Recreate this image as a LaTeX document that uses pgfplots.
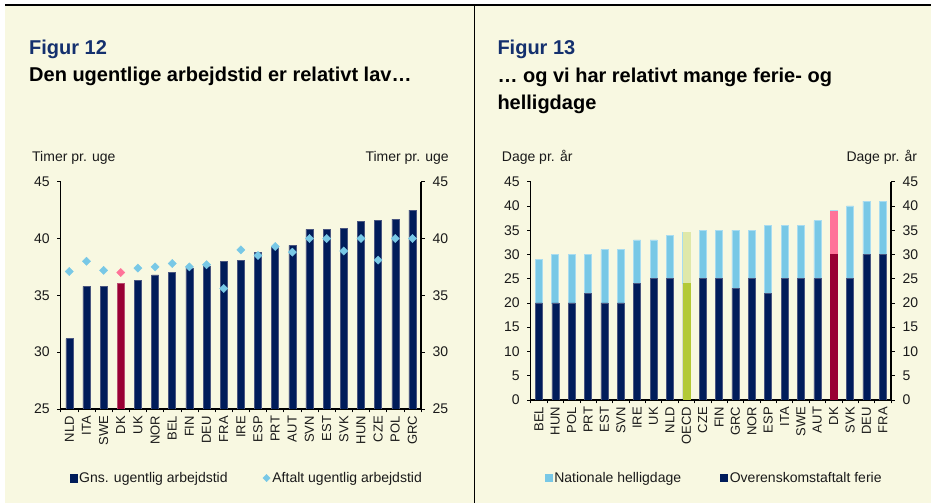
\documentclass[border=0pt]{standalone}
\usepackage{pgfplots}
\pgfplotsset{compat=1.18}
\usepackage{fontspec}
\setmainfont{Liberation Sans}
\definecolor{navy}{HTML}{001C5A}
\definecolor{navye}{HTML}{4A5680}
\definecolor{lblue}{HTML}{78C8E6}
\definecolor{lbluee}{HTML}{A9DCF0}
\definecolor{dkred}{HTML}{990033}
\definecolor{pink}{HTML}{FF7399}
\definecolor{ogreen}{HTML}{B3C935}
\definecolor{lgreen}{HTML}{DFE8A9}
\definecolor{cream}{HTML}{F8F8E1}
\definecolor{tblue}{HTML}{14306E}
\definecolor{txt}{HTML}{1A1A1A}
\newcommand{\lab}{\fontsize{14bp}{16bp}\selectfont}
\newcommand{\xlab}{\fontsize{13bp}{15bp}\selectfont}
\newcommand{\ttl}{\fontsize{20bp}{25bp}\selectfont\bfseries}
\pgfplotsset{
  base/.style={
    scale only axis, width=360.3bp, anchor=south west,
    tick align=outside, major tick length=3.5bp, minor tick length=3.5bp,
    tick style={black, line width=0.6bp},
    axis line style={black, line width=1.4bp},
    /pgf/number format/assume math mode=true,
    ticklabel style={font=\lab, text=txt},
  },
  xcat/.style={
    axis x line*=bottom, axis y line*=left,
    xtick={0,...,#1}, major x tick style={draw=none},
    minor xtick={-0.5,0.5,...,#1.5},
    xmin=-0.5, xmax=#1.5,
    x tick label style={rotate=90, anchor=east, font=\xlab},
    y tick label style={xshift=-4bp},
  },
  rightax/.style={
    axis x line=none, axis y line*=right, xmin=-0.5, xmax=#1.5,
    y tick label style={xshift=4.5bp},
  },
  leg/.style={
    legend style={draw=none, fill=none, anchor=west, legend columns=2,
      font=\lab, text=txt, inner sep=0pt,
      /tikz/every even column/.append style={column sep=#1}},
    legend cell align=left,
  },
}
\begin{document}
\begin{tikzpicture}[x=1bp,y=1bp]
\useasboundingbox (0,0) rectangle (931,503);
\fill[white] (0,0) rectangle (931,503);
\fill[cream] (5,0) rectangle (931,498);
\draw[black, line width=1.2bp] (5,498) -- (931,498);
\draw[black, line width=1.3bp] (474.3,0) -- (474.3,498);

% titles
\node[anchor=base west, inner sep=0, text=tblue, font=\ttl] at (29,448) {Figur 12};
\node[anchor=base west, inner sep=0, text=black, font=\ttl] at (29,421) {Den ugentlige arbejdstid er relativt lav…};
\node[anchor=base west, inner sep=0, text=txt, font=\lab] at (32,341) {Timer pr. uge};
\node[anchor=base east, inner sep=0, text=txt, font=\lab] at (449,341) {Timer pr. uge};

\node[anchor=base west, inner sep=0, text=tblue, font=\ttl] at (497.3,448) {Figur 13};
\node[anchor=base west, inner sep=0, text=black, font=\ttl] at (497.3,420) {… og vi har relativt mange ferie- og};
\node[anchor=base west, inner sep=0, text=black, font=\ttl] at (497.3,393) {helligdage};
\node[anchor=base west, inner sep=0, text=txt, font=\lab] at (501.7,341) {Dage pr. år};
\node[anchor=base east, inner sep=0, text=txt, font=\lab] at (917.3,341) {Dage pr. år};

% ---------- Figure 12 ----------
\begin{axis}[base, xcat=20, at={(60.7bp,94bp)}, height=227.3bp,
  ymin=25, ymax=45, ytick={25,30,...,45},
  xticklabels={NLD,ITA,SWE,DK,UK,NOR,BEL,FIN,DEU,FRA,IRE,ESP,PRT,AUT,SVN,EST,SVK,HUN,CZE,POL,GRC},
  leg=33bp, legend style={at={(0.024,-0.3036)}},
]
\addplot[ybar, bar width=7bp, bar shift=0pt, fill=navy, draw=navye, line width=0.5bp, forget plot]
 coordinates {(0,31.2) (1,35.8) (2,35.8) (4,36.3) (5,36.8) (6,37.0) (7,37.4) (8,37.6) (9,38.0) (10,38.1)
  (11,38.8) (12,39.2) (13,39.4) (14,40.8) (15,40.8) (16,40.9) (17,41.5) (18,41.6) (19,41.7) (20,42.5)};
\addplot[ybar, bar width=7bp, bar shift=0pt, fill=dkred, draw=dkred!70!white, line width=0.5bp, forget plot]
 coordinates {(3,36.1)};
\addplot[only marks, mark=square*, mark size=2.9bp, mark options={rotate=45, fill=lblue, draw=lblue}, forget plot]
 coordinates {(0,37.1) (1,38.0) (2,37.2) (4,37.4) (5,37.5) (6,37.8) (7,37.5) (8,37.7) (9,35.6) (10,39.0)
  (11,38.5) (12,39.3) (13,38.8) (14,40) (15,40) (16,38.9) (17,40) (18,38.1) (19,40) (20,40)};
\addplot[only marks, mark=square*, mark size=2.9bp, mark options={rotate=45, fill=pink, draw=pink}, forget plot]
 coordinates {(3,37.0)};
\addlegendimage{legend image code/.code={\fill[navy] (0,-3.7bp) rectangle (7.3bp,3.7bp);}}
\addlegendentry{Gns. ugentlig arbejdstid}
\addlegendimage{legend image code/.code={\fill[lblue] (0,0) -- (3.7bp,3.7bp) -- (7.4bp,0) -- (3.7bp,-3.7bp) -- cycle;}}
\addlegendentry{Aftalt ugentlig arbejdstid}
\end{axis}
\begin{axis}[base, rightax=20, at={(60.7bp,94bp)}, height=227.3bp,
  ymin=25, ymax=45, ytick={25,30,...,45}]
\end{axis}

% ---------- Figure 13 ----------
\begin{axis}[base, xcat=21, at={(530.7bp,103bp)}, height=218.3bp,
  ymin=0, ymax=45, ytick={0,5,...,45},
  xticklabels={BEL,HUN,POL,PRT,EST,SVN,IRE,UK,NLD,OECD,CZE,FIN,GRC,NOR,ESP,ITA,SWE,AUT,DK,SVK,DEU,FRA},
  ybar stacked, bar width=7bp,
  leg=37bp, legend style={at={(0.038,-0.357)}},
]
\addplot[fill=navy, draw=navye, line width=0.5bp, forget plot]
 coordinates {(0,20) (1,20) (2,20) (3,22) (4,20) (5,20) (6,24) (7,25) (8,25) (9,24) (10,25)
  (11,25) (12,23) (13,25) (14,22) (15,25) (16,25) (17,25) (18,30) (19,25) (20,30) (21,30)};
\addplot[fill=lblue, draw=lbluee, line width=0.6bp, forget plot]
 coordinates {(0,9) (1,10) (2,10) (3,8) (4,11) (5,11) (6,9) (7,8) (8,9) (9,10.6) (10,10)
  (11,10) (12,12) (13,10) (14,14) (15,11) (16,11) (17,12) (18,9) (19,15) (20,11) (21,11)};
\addlegendimage{legend image code/.code={\fill[lblue] (0,-3.7bp) rectangle (7.3bp,3.7bp);}}
\addlegendentry{Nationale helligdage}
\addlegendimage{legend image code/.code={\fill[navy] (0,-3.7bp) rectangle (7.3bp,3.7bp);}}
\addlegendentry{Overenskomstaftalt ferie}
\end{axis}
% highlighted bars: OECD and DK
\begin{axis}[base, at={(530.7bp,103bp)}, height=218.3bp, axis lines=none,
  xmin=-0.5, xmax=21.5, ymin=0, ymax=45, ybar stacked, bar width=7bp]
\addplot[fill=ogreen, draw=ogreen, line width=0.5bp] coordinates {(9,24) (18,0)};
\addplot[fill=lgreen, draw=lgreen, line width=0.5bp] coordinates {(9,10.6) (18,0)};
\end{axis}
\begin{axis}[base, at={(530.7bp,103bp)}, height=218.3bp, axis lines=none,
  xmin=-0.5, xmax=21.5, ymin=0, ymax=45, ybar stacked, bar width=7bp]
\addplot[fill=dkred, draw=dkred, line width=0.5bp] coordinates {(18,30) (9,0)};
\addplot[fill=pink, draw=pink, line width=0.5bp] coordinates {(18,9) (9,0)};
\end{axis}
\begin{axis}[base, rightax=21, at={(530.7bp,103bp)}, height=218.3bp,
  ymin=0, ymax=45, ytick={0,5,...,45}]
\end{axis}
\end{tikzpicture}
\end{document}
